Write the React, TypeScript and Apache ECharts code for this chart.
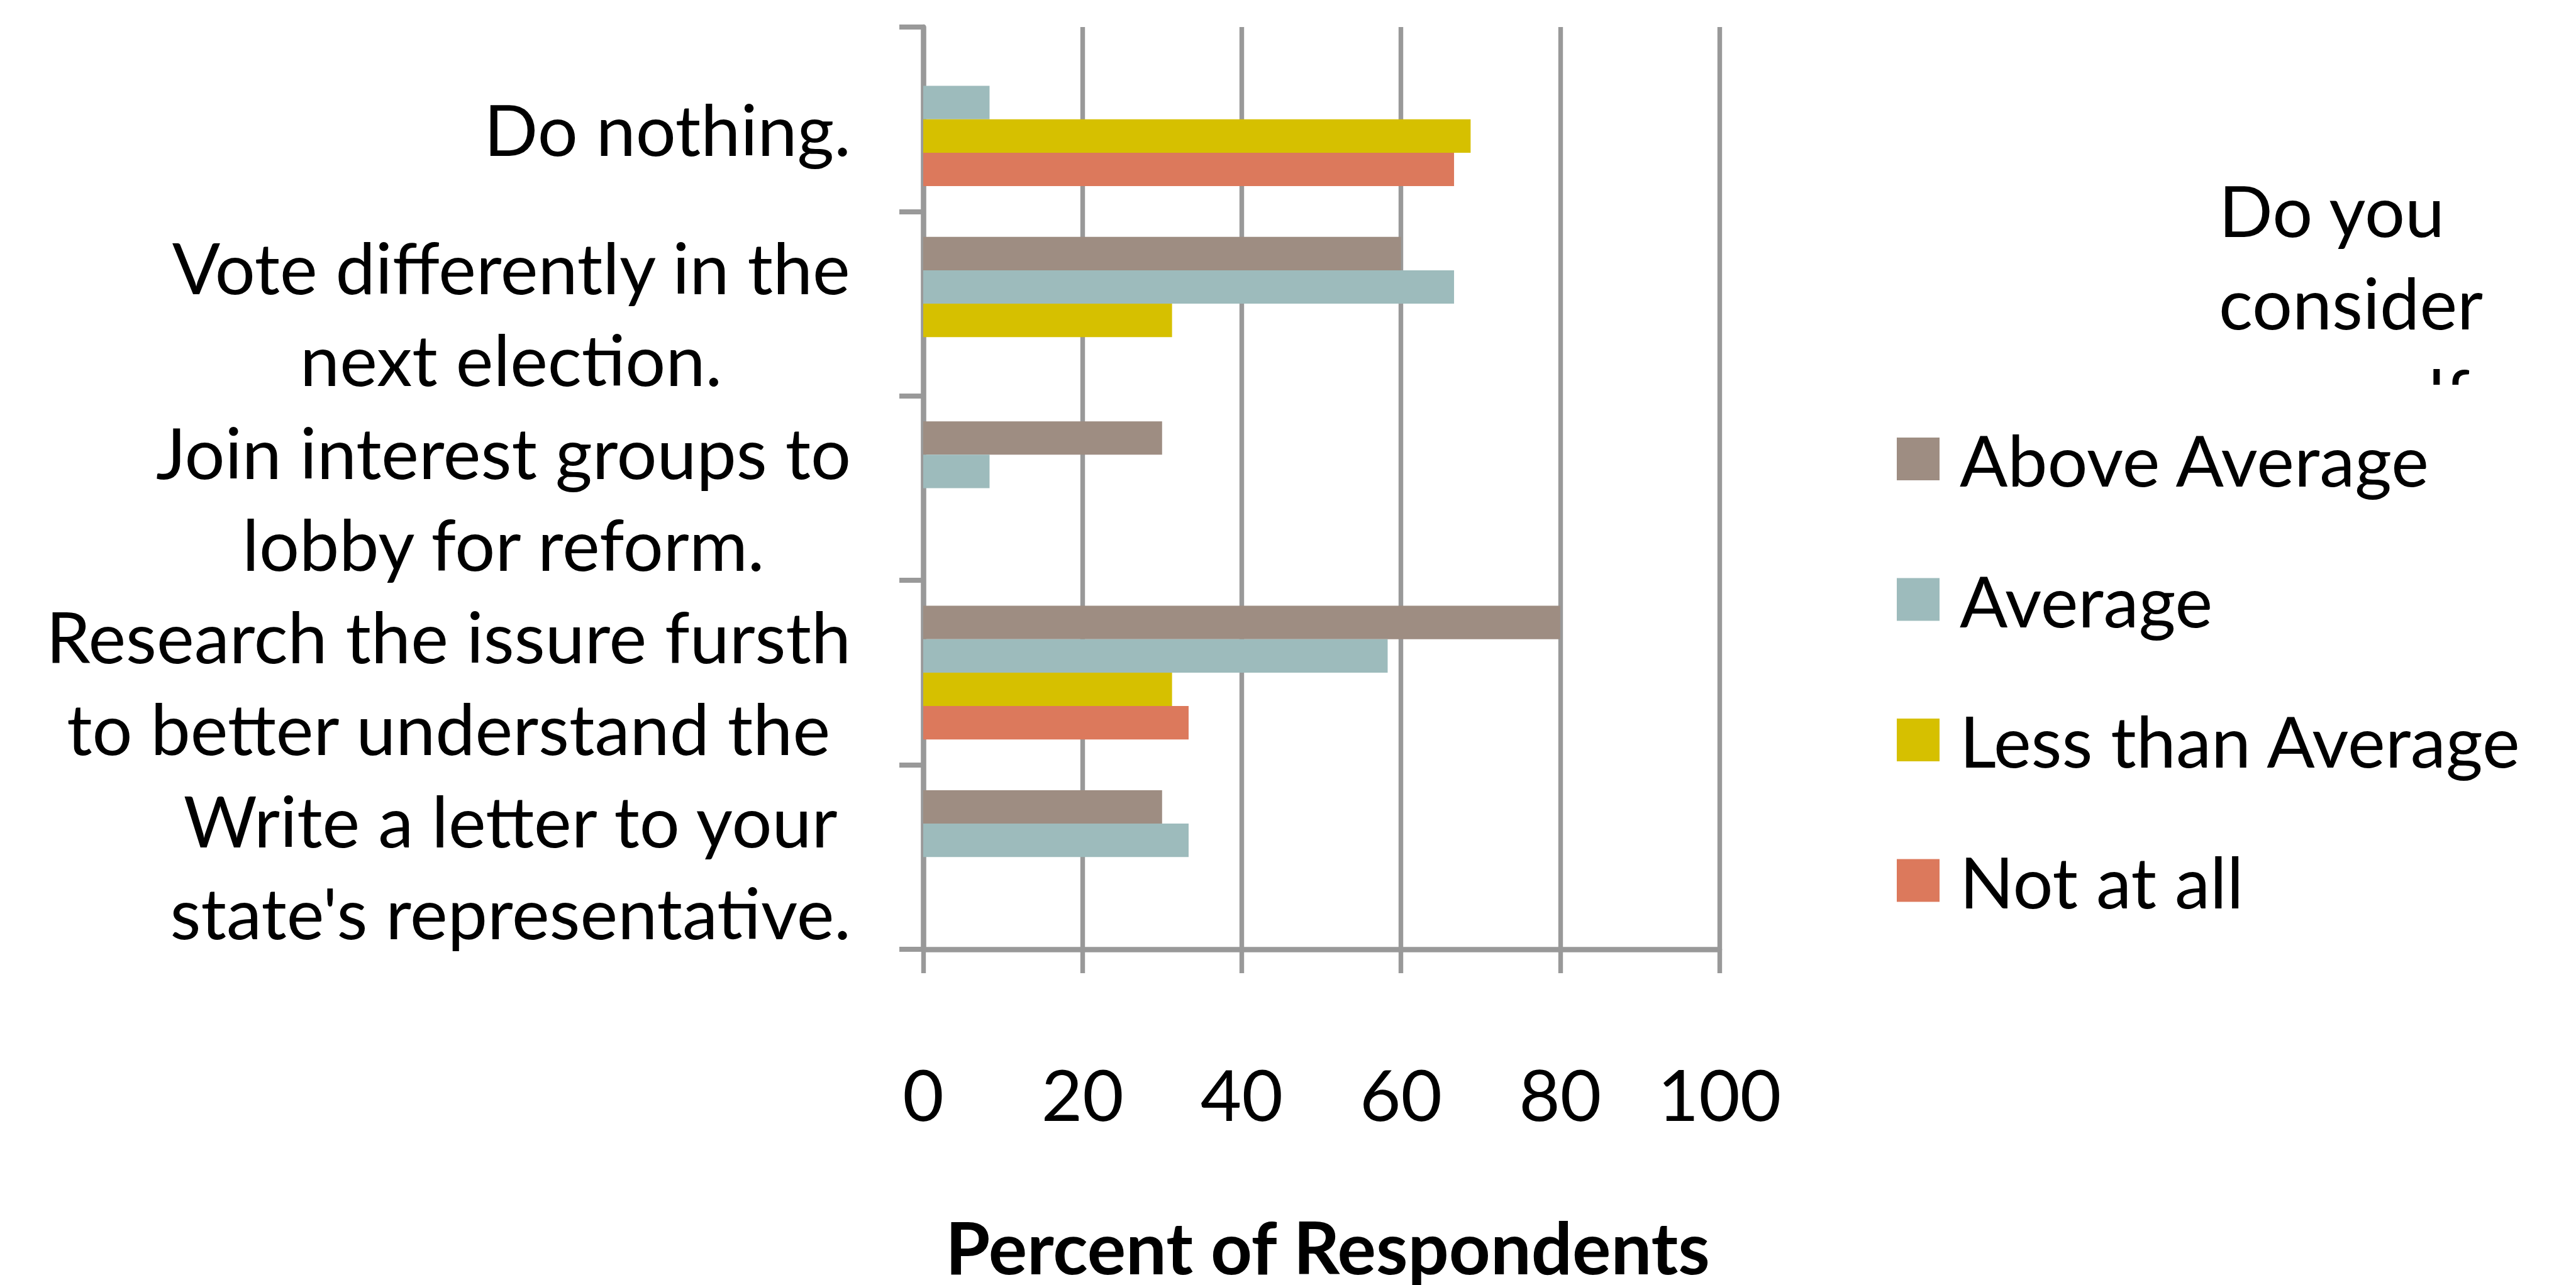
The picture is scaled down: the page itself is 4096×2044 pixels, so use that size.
import React, { useEffect, useRef } from "react";
import * as echarts from "echarts";

// Response categories, listed top to bottom; each entry holds the label's wrapped lines.
const categoryLines: string[][] = [
  ["Do nothing."],
  ["Vote differently in the", "next election."],
  ["Join interest groups to", "lobby for reform."],
  ["Research the issure fursth", "to better understand the"],
  ["Write a letter to your", "state's representative."],
];
const categories = categoryLines.map((l) => l.join(" "));

// Percent of respondents, by self-rated level
const seriesNames = ["Above Average", "Average", "Less than Average", "Not at all"];
const aboveAverage = [null, 60, 30, 80, 30];
const average = [8.33, 66.67, 8.33, 58.33, 33.33];
const lessThanAverage = [68.75, 31.25, null, 31.25, null];
const notAtAll = [66.67, null, null, 33.33, null];

const xTicks = [0, 20, 40, 60, 80, 100];
const legendTitleShown = ["Do you", "consider"];
const legendTitleCut = "yourself";
const xAxisTitle = "Percent of Respondents";

const colors = ["#9E8D82", "#9DBBBC", "#D6C000", "#DC795C"];
const GRAY = "#999999";
const FONT = "Lato";
const FS = 113;

export default function App() {
  const ref = useRef<HTMLDivElement>(null);

  useEffect(() => {
    if (!ref.current) return;
    const chart = echarts.init(ref.current, undefined, { renderer: "svg" });
    const values = [aboveAverage, average, lessThanAverage, notAtAll];

    chart.setOption({
      animation: false,
      backgroundColor: "#ffffff",
      grid: { left: 1468, top: 43, width: 1266, height: 1517, containLabel: false },
      xAxis: {
        type: "value",
        min: xTicks[0],
        max: xTicks[xTicks.length - 1],
        interval: xTicks[1] - xTicks[0],
        name: xAxisTitle,
        nameLocation: "middle",
        nameGap: 414,
        nameTextStyle: {
          fontFamily: FONT,
          fontWeight: "bold",
          fontSize: 115,
          lineHeight: 115,
          color: "#000",
          padding: [0, 0, 0, 20],
        },
        axisLine: { show: true, lineStyle: { color: GRAY, width: 8.5 } },
        axisTick: { show: true, inside: false, length: 38, lineStyle: { color: GRAY, width: 7.4 } },
        splitLine: { show: true, lineStyle: { color: GRAY, width: 7.4 } },
        axisLabel: {
          fontFamily: FONT,
          fontSize: FS,
          lineHeight: FS,
          color: "#000",
          margin: 172,
        },
      },
      yAxis: {
        type: "category",
        inverse: true,
        data: categories,
        axisLine: { show: true, lineStyle: { color: GRAY, width: 8.5 } },
        axisTick: { show: true, inside: false, length: 38, lineStyle: { color: GRAY, width: 8 } },
        splitLine: { show: false },
        axisLabel: {
          align: "right",
          margin: 115,
          padding: [28, 0, 0, 0],
          formatter: (_v: string, i: number) =>
            categoryLines[i].map((l) => `{c|${l}}`).join("\n"),
          rich: {
            c: {
              align: "center",
              fontFamily: FONT,
              fontSize: FS,
              lineHeight: 146,
              color: "#000",
            },
          },
        },
      },
      legend: {
        orient: "vertical",
        left: 3016,
        top: 666,
        padding: 0,
        itemWidth: 68,
        itemHeight: 68,
        itemGap: 95.5,
        icon: "rect",
        data: seriesNames,
        textStyle: {
          fontFamily: FONT,
          fontSize: FS,
          lineHeight: 110,
          color: "#000",
          padding: [18, 0, 0, 27],
        },
      },
      graphic: [
        {
          type: "text",
          x: 3528,
          y: 259,
          z: 1,
          style: {
            text: legendTitleShown.join("\n"),
            fontFamily: FONT,
            fontSize: FS,
            lineHeight: 147,
            fill: "#000",
            textAlign: "left",
            textVerticalAlign: "top",
          },
        },
        {
          // third title line: only the tops of its tallest letters fit in the title box
          type: "text",
          x: 3528,
          y: 626,
          z: 1,
          style: {
            text: legendTitleCut,
            fontFamily: FONT,
            fontSize: FS,
            lineHeight: 36,
            fill: "#000",
            textAlign: "left",
            textVerticalAlign: "middle",
          },
        },
        {
          type: "rect",
          z: 2,
          shape: { x: 3490, y: 612, width: 500, height: 92 },
          style: { fill: "#ffffff" },
        },
      ],
      series: seriesNames.map((name, k) => ({
        name,
        type: "bar",
        data: values[k],
        barGap: "0%",
        barCategoryGap: "27.5%",
        itemStyle: { color: colors[k] },
      })),
    });

    return () => chart.dispose();
  }, []);

  return (
    <div
      ref={ref}
      style={{ position: "absolute", left: 0, top: 0, width: 4096, height: 2044, background: "#fff" }}
    />
  );
}
